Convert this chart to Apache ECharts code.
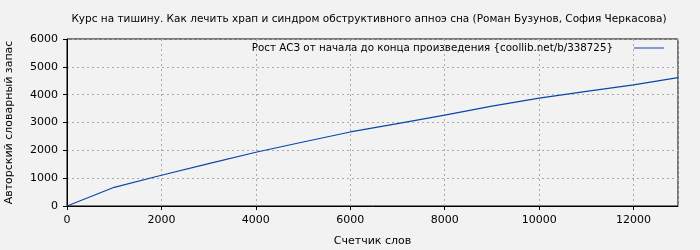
<!DOCTYPE html>
<html><head><meta charset="utf-8">
<script src="https://cdn.jsdelivr.net/npm/echarts@6/dist/echarts.min.js"></script>
<style>html,body{margin:0;padding:0;background:#f2f2f2}#c{width:700px;height:250px}</style>
</head><body><div id="c"></div>
<script>
const words = [0, 1000, 2000, 3000, 4000, 5000, 6000, 7000, 8000, 9000, 10000, 11000, 12000, 12938];
const vocab = [0, 672, 1104, 1520, 1931, 2300, 2660, 2960, 3265, 3586, 3874, 4120, 4353, 4615];
const titleText = 'Курс на тишину. Как лечить храп и синдром обструктивного апноэ сна (Роман Бузунов, София Черкасова)';
const seriesName = 'Рост АСЗ от начала до конца произведения {coollib.net/b/338725}';
const xName = 'Счетчик слов';
const yName = 'Авторский словарный запас';

const font = 'DejaVu Sans';
const chart = echarts.init(document.getElementById('c'));
chart.setOption({
  backgroundColor: '#f2f2f2',
  animation: false,
  textStyle: {fontFamily: font},
  title: {text: titleText, left: 364, textAlign: 'center', top: 9,
    textStyle: {fontFamily: font, fontSize: 10.5, fontWeight: 'normal', color: '#000'}},
  legend: {right: 31, top: 38, align: 'right',
    icon: 'path://M0,0 L0,0.02 L0.02,0.02 Z M16,0 L46,0 L46,1 L16,1 Z',
    itemWidth: 46, itemHeight: 1.5, itemGap: 5,
    textStyle: {fontFamily: font, fontSize: 10.3, color: '#000'},
    data: [{name: seriesName}]},
  grid: {left: 67, right: 22, top: 39, bottom: 44, outerBoundsMode: 'none', containLabel: false,
    show: true, borderColor: '#000', borderWidth: 1, backgroundColor: 'transparent'},
  xAxis: {type: 'value', min: 0, max: 12940, interval: 2000,
    name: xName, nameLocation: 'middle', nameGap: 30,
    nameTextStyle: {fontFamily: font, fontSize: 11, color: '#000'},
    axisLine: {lineStyle: {color: '#000'}},
    axisTick: {length: 4, lineStyle: {color: '#000'}},
    axisLabel: {showMaxLabel: false, fontFamily: font, fontSize: 11, color: '#000', margin: 9,
      formatter: v => String(v)},
    splitLine: {show: true, lineStyle: {color: '#aaa', type: [2, 3]}}},
  yAxis: {type: 'value', min: 0, max: 6000, interval: 1000,
    name: yName, nameLocation: 'middle', nameGap: 52,
    nameTextStyle: {fontFamily: font, fontSize: 11, color: '#000'},
    axisLine: {show: true, lineStyle: {color: '#000'}},
    axisTick: {show: true, length: 4, lineStyle: {color: '#000'}},
    axisLabel: {fontFamily: font, fontSize: 11, color: '#000', margin: 9,
      formatter: v => String(v)},
    splitLine: {show: true, lineStyle: {color: '#aaa', type: [2, 3]}}},
  series: [{name: seriesName, type: 'line', symbol: 'none',
    data: words.map((w, i) => [w, vocab[i]]),
    lineStyle: {color: '#0a46a8', width: 1.2}, itemStyle: {color: '#0a46a8'}}]
});
</script></body></html>
